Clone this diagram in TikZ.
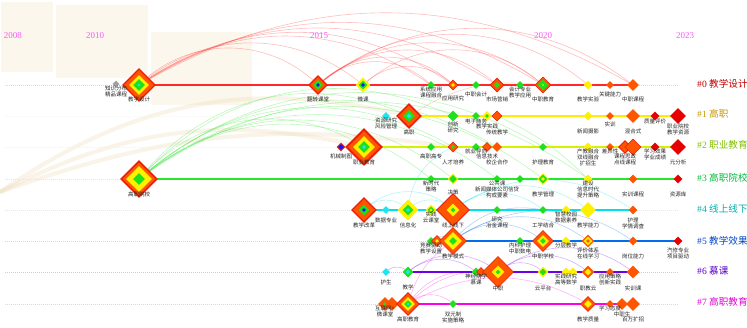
\documentclass[tikz,border=0pt]{standalone}
\usepackage{fontspec}
\setmainfont{Liberation Serif}
\newfontfamily\cjk{Noto Sans CJK SC}
\usetikzlibrary{shapes.geometric,positioning}

\definecolor{kR}{RGB}{235,30,10}
\definecolor{kO}{RGB}{255,85,0}
\definecolor{kY}{RGB}{255,240,0}
\definecolor{kG}{RGB}{30,225,30}
\definecolor{kB}{RGB}{20,20,255}
\definecolor{kC}{RGB}{30,230,240}
\definecolor{kD}{RGB}{230,0,0}
\definecolor{kS}{RGB}{160,160,160}
\definecolor{c0}{RGB}{255,40,40}   \definecolor{t0}{RGB}{190,0,0}
\definecolor{c1}{RGB}{255,235,0}   \definecolor{t1}{RGB}{200,150,0}
\definecolor{c2}{RGB}{215,240,0}   \definecolor{t2}{RGB}{130,190,0}
\definecolor{c3}{RGB}{40,230,40}   \definecolor{t3}{RGB}{0,190,60}
\definecolor{c4}{RGB}{0,225,235}   \definecolor{t4}{RGB}{0,175,175}
\definecolor{c5}{RGB}{0,110,235}   \definecolor{t5}{RGB}{0,70,200}
\definecolor{c6}{RGB}{110,0,230}   \definecolor{t6}{RGB}{90,0,200}
\definecolor{c7}{RGB}{255,0,235}   \definecolor{t7}{RGB}{225,0,215}
\definecolor{yrc}{RGB}{250,90,250}
\definecolor{slice}{RGB}{251,247,236}
\definecolor{tanband}{RGB}{238,222,190}

\pgfdeclarelayer{back}
\pgfdeclarelayer{front}
\pgfsetlayers{back,main,front}

% keyword: name, x, y, layers (colour/size), label drop, label
\newcommand{\kw}[6]{%
  \coordinate (#1) at (#2,#3);
  \foreach \col/\sz [count=\i] in {#4}
    \node[kd, fill=\col, minimum size=\sz pt] (#1-\i) at (#1) {};
  \begin{pgfonlayer}{front}
    \node[kl, below=#5pt of #1] (#1-t) {#6};
  \end{pgfonlayer}}

\begin{document}
\begin{tikzpicture}[x=1pt, y=-1pt,
    kd/.style={diamond, draw=none, inner sep=0pt},
    kl/.style={font=\cjk\fontsize{5.5}{5.8}\selectfont, align=center, inner sep=0pt, text=black!85},
    yr/.style={font=\fontsize{9}{9}\selectfont, text=yrc},
    cl/.style={anchor=west, inner sep=0pt, font=\fontsize{9.6}{10}\selectfont},
    arc/.style={line width=0.6pt, opacity=0.3},
    band/.style={line width=4pt, draw=tanband, opacity=0.35},
    dots/.style={line width=1pt, dash pattern=on 1pt off 1pt},
    tl/.style={line width=1.6pt}]
\useasboundingbox (0,0) rectangle (747,327);

\node[yr] (y2008) at (13,36) {2008};
\node[yr] (y2010) at (95,36) {2010};
\node[yr] (y2015) at (319,36) {2015};
\node[yr] (y2020) at (543,36) {2020};
\node[yr] (y2023) at (685,36) {2023};

% #0
\kw{a1}{116}{84}{kS/7}{2}{知识分布\\精品课程}
\kw{a2}{139}{85}{kR/34,kO/30,kY/20,kG/12,kC/3}{12}{教学设计}
\kw{a3}{318}{85}{kR/20,kO/16,kG/10,kB/4}{12}{翻转课堂}
\kw{a4}{363}{85}{kY/15,kG/9,kB/4}{12}{微课}
\kw{a5}{431}{85}{kG/8}{2}{系统应用\\课程融合}
\kw{a6}{453}{85}{kR/11,kO/9,kY/4}{11}{应用研究}
\kw{a7}{476}{85}{kG/8}{7}{中职会计}
\kw{a8}{497}{85}{kR/15,kO/12,kG/6}{12}{市场营销}
\kw{a9}{520}{85}{kG/8}{2}{会计专业\\教学应用}
\kw{a10}{543}{85}{kR/17,kO/15,kG/11,kY/2}{12}{中职教育}
\kw{a11}{588}{85}{kY/9}{12}{教学实验}
\kw{a12}{610}{85}{kO/8}{7}{关键能力}
\kw{a13}{633}{85}{kO/12}{12}{中职课程}

% #1
\kw{b1}{386}{116}{kC/8}{2}{资源研究\\风险管理}
\kw{b2}{409}{116}{kR/26,kO/21,kG/12,kC/5}{14}{高职}
\kw{b3}{453}{116}{kG/11}{6}{创新\\研究}
\kw{b4}{476}{116}{kG/8}{3}{电子商务}
\kw{b5}{487}{116}{kY/10,kG/4}{8}{教学实践}
\kw{b6}{497}{116}{kR/11,kO/9}{14}{传统教学}
\kw{b7}{588}{116}{kY/9}{13}{新闻摄影}
\kw{b8}{610}{116}{kO/8}{6}{实训}
\kw{b9}{633}{116}{kO/14}{13}{混合式}
\kw{b10}{655}{116}{kD/9}{3}{质量评价}
\kw{b11}{678}{116}{kD/16}{8}{职业院校\\教学资源}

% #2
\kw{c1}{341}{147}{kR/9,kB/6}{7}{机械制图}
\kw{c2}{364}{147}{kR/38,kO/32,kY/22,kG/12,kC/4}{13}{职业教育}
\kw{c3}{431}{147}{kG/8}{7}{高职高专}
\kw{c4}{453}{147}{kR/11,kO/9,kG/4}{13}{人才培养}
\kw{c5}{476}{147}{kG/8}{2}{就业导向}
\kw{c6}{487}{147}{kR/10,kO/8}{7}{信息技术}
\kw{c7}{497}{147}{kO/10}{13}{校企合作}
\kw{c8}{543}{147}{kG/8}{13}{护理教育}
\kw{c9}{588}{147}{kY/9}{2}{产教融合\\双线融合\\扩招生}
\kw{c10}{610}{147}{kO/8}{2}{差异性}
\kw{c11}{625}{147}{kR/14,kO/11}{7}{课程思政\\点线课程}
\kw{c12}{633}{147}{kR/17,kO/15}{13}{}
\kw{c13}{655}{147}{kD/9}{2}{学习效果\\学业成绩}
\kw{c14}{678}{147}{kD/16}{13}{元分析}

% #3
\kw{d1}{139}{179}{kR/38,kO/33,kY/26,kG/12}{13}{高职院校}
\kw{d2}{431}{179}{kG/8}{2}{新时代\\策略}
\kw{d3}{453}{179}{kY/11,kG/8}{11}{决策}
\kw{d4}{497}{179}{kG/8}{2}{公共课\\新闻媒体公司信贷\\构成要素}
\kw{d5}{520}{179}{kG/8}{13}{}
\kw{d6}{543}{179}{kY/12,kG/9,kY/4}{13}{教学管理}
\kw{d7}{588}{179}{kY/9}{2}{建设\\信息时代\\提升策略}
\kw{d8}{633}{179}{kO/9}{13}{实训课程}
\kw{d9}{678}{179}{kD/9}{13}{资源库}

% #4
\kw{e1}{364}{210}{kR/26,kO/22,kG/11,kB/4}{13}{教学改革}
\kw{e2}{386}{210}{kC/8}{8}{数据专业}
\kw{e3}{408}{210}{kY/21,kG/11,kC/4}{13}{信息化}
\kw{e4}{431}{210}{kY/11,kG/7,kY/3}{2}{实践\\云课堂}
\kw{e5}{453}{210}{kR/34,kO/31,kY/13,kG/5}{13}{线上线下}
\kw{e6}{497}{210}{kG/8}{7}{研究\\冶金课程}
\kw{e7}{543}{210}{kG/8}{13}{工学结合}
\kw{e8}{566}{210}{kY/9}{2}{智慧校园\\数据素养}
\kw{e9}{588}{210}{kY/16}{13}{教学能力}
\kw{e10}{633}{210}{kO/9}{8}{护理\\学情调查}

% #5
\kw{f1}{431}{241}{kG/8}{2}{竞赛驱动\\教学设置}
\kw{f2}{437}{241}{kR/12,kO/10,kY/4}{13}{}
\kw{f3}{453}{241}{kR/28,kO/26,kY/18,kG/8}{13}{教学模式}
\kw{f4}{520}{241}{kG/8}{2}{内科护理\\中职数电}
\kw{f5}{543}{241}{kR/22,kO/20,kY/12,kG/6}{13}{中职学校}
\kw{f6}{566}{241}{kY/9}{2}{分层教学}
\kw{f7}{588}{241}{kO/13,kY/9,kO/4}{7}{评价体系\\在线学习}
\kw{f8}{633}{241}{kO/9}{13}{岗位能力}
\kw{f9}{678}{241}{kD/9}{7}{汽修专业\\项目驱动}

% #6
\kw{g1}{386}{272}{kC/8}{8}{护生}
\kw{g2}{408}{272}{kG/11,kC/5}{13}{教学}
\kw{g3}{476}{272}{kG/9}{2}{神经病学\\慕课}
\kw{g4}{481}{272}{kR/10,kO/8}{13}{}
\kw{g5}{498}{272}{kR/32,kO/30,kY/13,kG/5}{14}{中职}
\kw{g6}{543}{272}{kY/11,kG/7}{14}{云平台}
\kw{g7}{566}{272}{kY/9}{2}{实践研究\\高等数学}
\kw{g8}{573}{272}{kY/9}{14}{}
\kw{g9}{588}{272}{kO/13,kY/7}{14}{职教云}
\kw{g10}{610}{272}{kO/8}{2}{应用策略\\创新实践}
\kw{g11}{633}{272}{kO/13}{14}{实训课}

% #7
\kw{h1}{385}{304}{kO/14,kG/4}{2}{互联网+\\微课堂}
\kw{h2}{392}{304}{kO/14}{13}{}
\kw{h3}{408}{304}{kR/24,kO/21,kY/14,kG/8,kC/3}{13}{高职教育}
\kw{h4}{453}{304}{kG/8}{8}{双元制\\实施策略}
\kw{h5}{588}{304}{kR/16,kO/14,kY/8}{13}{教学质量}
\kw{h6}{610}{304}{kO/8}{2}{学习态度}
\kw{h7}{622}{304}{kO/12}{8}{中职生}
\kw{h8}{633}{304}{kO/14}{13}{百万扩招}

\node[cl, text=t0] (l0) at (697,84)  {\#0 {\cjk 教学设计}};
\node[cl, text=t1] (l1) at (697,114) {\#1 {\cjk 高职}};
\node[cl, text=t2] (l2) at (697,145) {\#2 {\cjk 职业教育}};
\node[cl, text=t3] (l3) at (697,178) {\#3 {\cjk 高职院校}};
\node[cl, text=t4] (l4) at (697,209) {\#4 {\cjk 线上线下}};
\node[cl, text=t5] (l5) at (697,241) {\#5 {\cjk 教学效果}};
\node[cl, text=t6] (l6) at (697,271) {\#6 {\cjk 慕课}};
\node[cl, text=t7] (l7) at (697,302) {\#7 {\cjk 高职教育}};

\begin{pgfonlayer}{back}
  \fill[white] (0,0) rectangle (747,327);
  \fill[slice] (1,2) rectangle (53,72);
  \fill[slice] (56,5) rectangle (148,78);
  \fill[slice] (151,32) rectangle (252,105);
  \coordinate (w) at (0,192);
  \draw[band] (w) to[bend left=20] (c2);
  \draw[band] (w) to[bend left=24] (b2);
  \draw[band] (w) to[bend left=14] (c4);
  \foreach \p/\q/\b in {a2/a3/45, a2/a4/40, a2/a5/35, a2/a6/35, a2/a8/33, a2/a10/32,
      a2/a13/30, a3/a5/45, a3/a6/45, a3/a8/42, a3/a10/40, a3/a11/40, a3/a13/38,
      a4/a6/45, a4/a10/42}
    \draw[arc, c0] (\p) to[bend left=\b] (\q);
  \foreach \p/\q/\b in {d1/c2/40, d1/b2/38, d1/b3/36, d1/c4/36, d1/d2/40, d1/d3/40,
      d1/c7/36, d1/d4/38, d1/c8/36, d1/d6/38, d1/d7/36, b6/d7/10}
    \draw[arc, c3] (\p) to[bend left=\b] (\q);
  \draw[arc, tanband!60!brown, opacity=0.5] (b2) to[bend left=20] (a10);
  \foreach \p/\q/\b in {e1/e3/50, e1/e5/45, e3/e5/50, e5/e7/40, e5/e9/38, e5/e10/35, e3/c4/30}
    \draw[arc, c4] (\p) to[bend left=\b] (\q);
  \foreach \p/\q/\b in {f1/f3/50, f3/f5/40, f3/f7/38, f3/f8/35, f3/e7/30}
    \draw[arc, c5] (\p) to[bend left=\b] (\q);
  \foreach \p/\q/\b in {g1/g2/50, g2/g3/40, g2/g5/40, g5/g6/45, g5/g9/40, g5/g11/38}
    \draw[arc, c6] (\p) to[bend left=\b] (\q);
  \foreach \p/\q/\b in {h3/g5/25, h3/h4/45, h3/h5/30, h3/g3/30, h3/f3/20}
    \draw[arc, c7] (\p) to[bend left=\b] (\q);
  \foreach \r/\y in {0/85, 1/116, 2/147, 3/179, 4/210, 5/241, 6/272, 7/304} {
    \coordinate (rs\r) at (5,\y);
    \coordinate (re\r) at (678,\y);
    \draw[dots, c\r!25] (rs\r) -- (re\r);
  }
  \draw[tl, c0] (a2) -- (a13);
  \draw[tl, c1] (b2) -- (b11);
  \draw[tl, c2] (c2) -- (c14);
  \draw[tl, c3] (d1) -- (d9);
  \draw[tl, c4] (e1) -- (e10);
  \draw[tl, c5] (f1) -- (f9);
  \draw[tl, c6] (g2) -- (g11);
  \draw[tl, c7] (h1) -- (h8);
\end{pgfonlayer}
\end{tikzpicture}
\end{document}
